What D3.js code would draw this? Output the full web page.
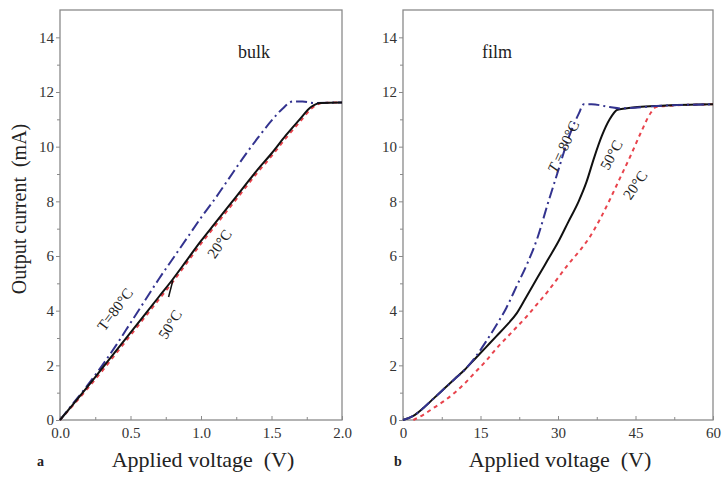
<!DOCTYPE html>
<html>
<head>
<meta charset="utf-8">
<script src="https://cdn.jsdelivr.net/npm/d3@7"></script>
<style>
  body { margin: 0; background: #fff; }
  svg { font-family: "Liberation Serif", "DejaVu Serif", serif; }
  text { white-space: pre; }
</style>
</head>
<body>
<svg id="chart" width="727" height="479"></svg>
<script>
// bulk panel data (V, mA)
const bulkT20 = [[0,0],[0.1,0.58],[0.2,1.18],[0.3,1.8],[0.4,2.45],[0.5,3.1],[0.6,3.75],[0.7,4.4],[0.8,5.05],[0.9,5.75],[1.0,6.45],[1.1,7.1],[1.2,7.75],[1.3,8.4],[1.4,9.05],[1.5,9.65],[1.6,10.3],[1.7,10.9],[1.78,11.38],[1.86,11.6],[2.0,11.62]];
const bulkT50 = [[0,0],[0.1,0.62],[0.2,1.25],[0.3,1.9],[0.4,2.55],[0.5,3.2],[0.6,3.85],[0.7,4.5],[0.8,5.15],[0.9,5.85],[1.0,6.55],[1.1,7.2],[1.2,7.85],[1.3,8.5],[1.4,9.15],[1.5,9.75],[1.6,10.4],[1.7,11.0],[1.78,11.45],[1.85,11.6],[2.0,11.62]];
const bulkT80 = [[0,0],[0.1,0.65],[0.2,1.3],[0.3,2.0],[0.4,2.75],[0.5,3.55],[0.6,4.35],[0.7,5.15],[0.8,5.9],[0.9,6.65],[1.0,7.4],[1.1,8.1],[1.2,8.85],[1.3,9.6],[1.4,10.3],[1.5,10.95],[1.58,11.4],[1.65,11.65],[1.72,11.65],[1.8,11.6],[2.0,11.62]];

// film panel data (V, mA)
const filmT20 = [[2,0],[4,0.2],[6,0.45],[8,0.7],[10,1.0],[12,1.35],[14,1.75],[16,2.15],[18,2.6],[20,3.0],[22,3.4],[24,3.8],[26,4.25],[28,4.7],[30,5.2],[32,5.7],[34,6.15],[36,6.65],[38,7.3],[40,8.05],[42,8.85],[44,9.65],[46,10.5],[48,11.25],[49,11.45],[52,11.5],[60,11.55]];
const filmT50 = [[0,0],[2,0.15],[4,0.45],[6,0.8],[8,1.15],[10,1.5],[12,1.85],[14,2.25],[16,2.65],[18,3.05],[20,3.45],[22,3.9],[24,4.55],[26,5.2],[28,5.85],[30,6.5],[32,7.25],[34,8.0],[35.5,8.7],[37,9.6],[38.5,10.4],[40,11.0],[41.5,11.35],[43,11.4],[50,11.5],[60,11.55]];
const filmT80 = [[0,0],[2,0.15],[4,0.45],[6,0.8],[8,1.15],[10,1.5],[12,1.85],[14,2.3],[16,2.85],[18,3.45],[20,4.1],[22,4.9],[24,5.7],[26,6.65],[28,7.9],[30,9.1],[32,10.3],[34,11.2],[35,11.55],[36.5,11.55],[40,11.45],[42,11.4],[50,11.5],[60,11.55]];

const bulkTicks = [0, 0.5, 1.0, 1.5, 2.0];
const filmTicks = [0, 15, 30, 45, 60];
const yTicks = [0, 2, 4, 6, 8, 10, 12, 14];

const colors = { t20: "#e8434c", t50: "#111111", t80: "#33338f" };
const dashes = { t20: "4,4", t50: null, t80: "11,4,2,4" };

const svg = d3.select("#chart");
const plotTop = 10, plotBottom = 420;
const y = d3.scaleLinear().domain([0, 15]).range([plotBottom, plotTop]);

function panel(opts) {
  const x = d3.scaleLinear().domain(opts.domain).range(opts.range);
  const g = svg.append("g");

  // frame
  g.append("rect")
    .attr("x", opts.range[0]).attr("y", plotTop)
    .attr("width", opts.range[1] - opts.range[0]).attr("height", plotBottom - plotTop)
    .attr("fill", "none").attr("stroke", "#8a8a8a").attr("stroke-width", 1.3);

  // y axis
  const ya = g.append("g").attr("transform", `translate(${opts.range[0]},0)`)
    .call(d3.axisLeft(y).tickValues(yTicks).tickSize(4).tickPadding(2).tickFormat(d3.format("d")));
  const ym = g.append("g").attr("transform", `translate(${opts.range[0]},0)`)
    .call(d3.axisLeft(y).tickValues(d3.range(1, 15, 2)).tickSize(3).tickFormat(""));

  // x axis
  const xa = g.append("g").attr("transform", `translate(0,${plotBottom})`)
    .call(d3.axisBottom(x).tickValues(opts.ticks).tickSize(-4).tickPadding(7).tickFormat(opts.fmt));
  const minor = d3.range(opts.ticks.length - 1).map(i => (opts.ticks[i] + opts.ticks[i + 1]) / 2);
  const xm = g.append("g").attr("transform", `translate(0,${plotBottom})`)
    .call(d3.axisBottom(x).tickValues(minor).tickSize(-3).tickFormat(""));

  [ya, ym, xa, xm].forEach(a => {
    a.select(".domain").remove();
    a.selectAll("line").attr("stroke", "#8a8a8a").attr("stroke-width", 1);
    a.selectAll("text").attr("font-size", 15).attr("fill", "#333")
      .attr("font-family", "Liberation Serif, serif");
  });

  const line = d3.line().x(d => x(d[0])).y(d => y(d[1])).curve(d3.curveMonotoneX);
  opts.series.forEach(s => {
    g.append("path").datum(s.data)
      .attr("d", line)
      .attr("fill", "none")
      .attr("stroke", colors[s.key])
      .attr("stroke-width", 2)
      .attr("stroke-dasharray", dashes[s.key]);
  });

  // x title
  g.append("text")
    .attr("x", (opts.range[0] + opts.range[1]) / 2 + 2).attr("y", 467)
    .attr("text-anchor", "middle").attr("font-size", 22).attr("fill", "#222")
    .text("Applied voltage  (V)");

  // panel letter
  g.append("text")
    .attr("x", opts.letterX).attr("y", 466)
    .attr("font-size", 14).attr("font-weight", "bold").attr("fill", "#222")
    .text(opts.letter);

  // panel name
  g.append("text")
    .attr("x", opts.nameX).attr("y", 58)
    .attr("font-size", 18).attr("fill", "#222")
    .text(opts.name);

  // curve labels
  opts.labels.forEach(l => {
    const t = g.append("text")
      .attr("transform", `translate(${x(l.v)},${y(l.i)}) rotate(${l.rot})`)
      .attr("text-anchor", "middle").attr("dy", "0.35em")
      .attr("font-size", 15).attr("fill", "#222");
    if (l.italicT) {
      t.append("tspan").attr("font-style", "italic").text("T");
      t.append("tspan").text(l.text.slice(1));
    } else {
      t.text(l.text);
    }
  });

  return { x, g };
}

const bulkPanel = panel({
  domain: [0, 2], range: [60, 342], ticks: bulkTicks, fmt: d3.format(".1f"),
  letter: "a", letterX: 37, name: "bulk", nameX: 238,
  series: [{ key: "t20", data: bulkT20 }, { key: "t80", data: bulkT80 }, { key: "t50", data: bulkT50 }],
  labels: [
    { text: "T=80°C", v: 0.39, i: 4.05, rot: -53 },
    { text: "50°C", v: 0.78, i: 3.5, rot: -58 },
    { text: "20°C", v: 1.13, i: 6.45, rot: -55 }
  ]
});

// pointer from 50°C label to the curve
bulkPanel.g.append("line")
  .attr("x1", bulkPanel.x(0.77)).attr("y1", y(4.5))
  .attr("x2", bulkPanel.x(0.8)).attr("y2", y(5.1))
  .attr("stroke", "#111").attr("stroke-width", 1.5);

const filmPanel = panel({
  domain: [0, 60], range: [403, 713], ticks: filmTicks, fmt: d3.format("d"),
  letter: "b", letterX: 394, name: "film", nameX: 482,
  series: [{ key: "t20", data: filmT20 }, { key: "t50", data: filmT50 }, { key: "t80", data: filmT80 }],
  labels: [
    { text: "T = 80°C", v: 31.0, i: 10.0, rot: -65, italicT: true },
    { text: "50°C", v: 40.3, i: 9.7, rot: -62 },
    { text: "20°C", v: 44.9, i: 8.6, rot: -55 }
  ]
});

// y title
svg.append("text")
  .attr("transform", "translate(26,209) rotate(-90)")
  .attr("text-anchor", "middle").attr("font-size", 20).attr("fill", "#222")
  .text("Output current  (mA)");
</script>
</body>
</html>
